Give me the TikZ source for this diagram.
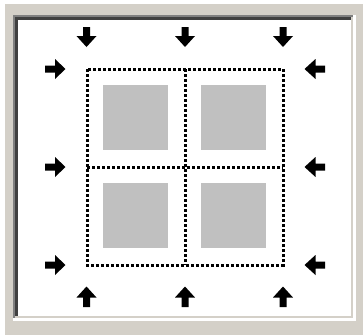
\documentclass[tikz,border=0pt]{standalone}
\definecolor{fondgris}{HTML}{D4D0C8}
\definecolor{ombre}{HTML}{808080}
\definecolor{ombrefonce}{HTML}{404040}
\definecolor{blocgris}{HTML}{C0C0C0}
\begin{document}
\begin{tikzpicture}[x=1pt, y=-1pt,
    bloc/.style={fill=blocgris},
    fleche/.style={fill=black},
    grille/.style={draw=black, line width=3pt, dash pattern=on 3pt off 2pt}]
      % Cadre
      \fill[white] (0,0) rectangle (363,335);
      \fill[fondgris] (5,4) rectangle (363,335);
      \fill[white] (13,15) rectangle (356,321);
      \fill[ombre] (13,15) rectangle (353,318);
      \fill[fondgris] (15,17) rectangle (353,318);
      \fill[ombrefonce] (15,17) rectangle (351,316);
      \fill[white] (18,20) rectangle (351,316);
      
      % Zone en pointillés
      \draw[grille] (87,69) rectangle (283,265);
      \draw[grille] (185,69) -- (185,265);
      \draw[grille] (87,167) -- (283,167);
      
      % Blocs
      \fill[bloc] (103,85) rectangle (168,150);
      \fill[bloc] (201,85) rectangle (266,150);
      \fill[bloc] (103,183) rectangle (168,248);
      \fill[bloc] (201,183) rectangle (266,248);
      
      % Flèches du haut
      \fill[fleche] (83,27) -- (90,27) -- (90,36) -- (96.5,36) -- (86.5,47) -- (76.5,36) -- (83,36) -- cycle;
      \fill[fleche] (181.5,27) -- (188.5,27) -- (188.5,36) -- (195,36) -- (185,47) -- (175,36) -- (181.5,36) -- cycle;
      \fill[fleche] (279.5,27) -- (286.5,27) -- (286.5,36) -- (293,36) -- (283,47) -- (273,36) -- (279.5,36) -- cycle;
      
      % Flèches du bas
      \fill[fleche] (83,307) -- (90,307) -- (90,297.5) -- (96.5,297.5) -- (86.5,286.5) -- (76.5,297.5) -- (83,297.5) -- cycle;
      \fill[fleche] (181.5,307) -- (188.5,307) -- (188.5,297.5) -- (195,297.5) -- (185,286.5) -- (175,297.5) -- (181.5,297.5) -- cycle;
      \fill[fleche] (279.5,307) -- (286.5,307) -- (286.5,297.5) -- (293,297.5) -- (283,286.5) -- (273,297.5) -- (279.5,297.5) -- cycle;
      
      % Flèches de gauche
      \fill[fleche] (45,65.5) -- (45,72.5) -- (55,72.5) -- (55,79) -- (65.5,69) -- (55,59) -- (55,65.5) -- cycle;
      \fill[fleche] (45,163.5) -- (45,170.5) -- (55,170.5) -- (55,177) -- (65.5,167) -- (55,157) -- (55,163.5) -- cycle;
      \fill[fleche] (45,261.5) -- (45,268.5) -- (55,268.5) -- (55,275) -- (65.5,265) -- (55,255) -- (55,261.5) -- cycle;
      
      % Flèches de droite
      \fill[fleche] (325,65.5) -- (325,72.5) -- (315.5,72.5) -- (315.5,79) -- (304.5,69) -- (315.5,59) -- (315.5,65.5) -- cycle;
      \fill[fleche] (325,163.5) -- (325,170.5) -- (315.5,170.5) -- (315.5,177) -- (304.5,167) -- (315.5,157) -- (315.5,163.5) -- cycle;
      \fill[fleche] (325,261.5) -- (325,268.5) -- (315.5,268.5) -- (315.5,275) -- (304.5,265) -- (315.5,255) -- (315.5,261.5) -- cycle;
    \end{tikzpicture}
\end{document}
